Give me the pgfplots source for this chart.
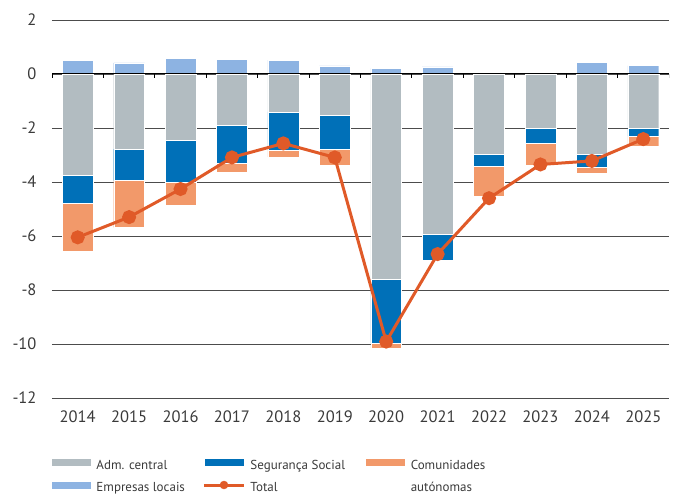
\documentclass[border=0pt]{standalone}
\usepackage{fontspec}
\setmainfont{PT Sans}
\usepackage{pgfplots}
\usepackage{pgfplotstable}
\pgfplotsset{compat=1.18}

\definecolor{adm}{HTML}{B2BCC1}
\definecolor{seg}{HTML}{0070B8}
\definecolor{com}{HTML}{F2996A}
\definecolor{emp}{HTML}{8DB3E2}
\definecolor{tot}{HTML}{E05A28}
\definecolor{txt}{HTML}{3A3A3A}

% contributions by sector, 2014..2025 at x = 0..11
\pgfplotstableread{
x  adm   seg   com   emp   total
0  -3.74 -1.03 -1.79  0.51 -6.05
1  -2.78 -1.17 -1.73  0.41 -5.30
2  -2.46 -1.54 -0.85  0.59 -4.26
3  -1.88 -1.42 -0.34  0.54 -3.09
4  -1.40 -1.41 -0.26  0.51 -2.57
5  -1.54 -1.24 -0.60  0.30 -3.09
6  -7.60 -2.37 -0.17  0.21 -9.91
7  -5.94 -0.95 -0.03  0.26 -6.67
8  -2.97 -0.45 -1.09 -0.06 -4.60
9  -2.00 -0.56 -0.81  0.00 -3.35
10 -2.96 -0.48 -0.23  0.43 -3.22
11 -2.00 -0.31 -0.38  0.31 -2.41
}\data

\begin{document}
\begin{tikzpicture}[text=txt]
\pgfplotsset{
  base/.style={scale only axis, width=617pt, height=378pt,
    xmin=-0.5, xmax=11.5, ymin=-12, ymax=2},
  swatch/.style={legend image code/.code={\fill[##1] (0pt,-4pt) rectangle (40pt,4pt);}},
}
\begin{axis}[base,
  ybar stacked, stack negative=separate, bar width=0.6,
  axis line style={draw=none},
  major tick length=0pt,
  ytick={-12,-10,...,2},
  xtick={0,...,11},
  xticklabels={2014,2015,2016,2017,2018,2019,2020,2021,2022,2023,2024,2025},
  ymajorgrids, grid style={black!70, line width=0.9pt},
  /pgf/number format/assume math mode=true,
  tick label style={font=\fontsize{16.5}{18}\selectfont, text=txt},
  yticklabel style={xshift=-12pt},
  xticklabel style={yshift=-9pt},
  legend columns=3,
  legend cell align=left,
  legend style={draw=none, fill=none, at={(rel axis cs:-0.0065,-0.1414)}, anchor=north west,
    font=\fontsize{13}{22}\selectfont, text=txt,
    nodes={inner sep=0pt}, column sep=5pt, row sep=6pt},
]
\addplot[swatch, fill=adm, draw=white, line width=0.3pt] table[x=x, y=adm] {\data};
\addplot[swatch, fill=seg, draw=white, line width=0.3pt] table[x=x, y=seg] {\data};
\addplot[swatch, fill=com, draw=white, line width=0.3pt] table[x=x, y=com] {\data};
\addplot[swatch, fill=emp, draw=white, line width=0.3pt] table[x=x, y=emp] {\data};
\addlegendimage{legend image code/.code={
  \draw[tot, line width=3pt] (0pt,0pt) -- (40pt,0pt);
  \fill[tot] (20pt,0pt) circle (4pt);}}
\legend{\makebox[101pt][l]{Adm. central\strut},
        \makebox[110pt][l]{Segurança Social\strut},
        \smash{\parbox[t]{120pt}{Comunidades\\autónomas}}\strut,
        \makebox[101pt][l]{Empresas locais\strut},
        \makebox[110pt][l]{Total\strut}}
\end{axis}
\begin{axis}[base, hide axis]
\draw[black, line width=1pt] (axis cs:-0.5,0) -- (axis cs:11.5,0);
\pgfplotsinvokeforeach{-0.5,0.5,...,11.5}{
  \draw[black, line width=1pt] (axis cs:#1,0) -- ++(0pt,-4.5pt);
}
\addplot[tot, line width=3pt, mark=*, mark size=5.5pt] table[x=x, y=total] {\data};
\end{axis}
\path (current axis.south west) ++(-52pt,-96pt) rectangle ++(678pt,494pt);
\end{tikzpicture}
\end{document}
